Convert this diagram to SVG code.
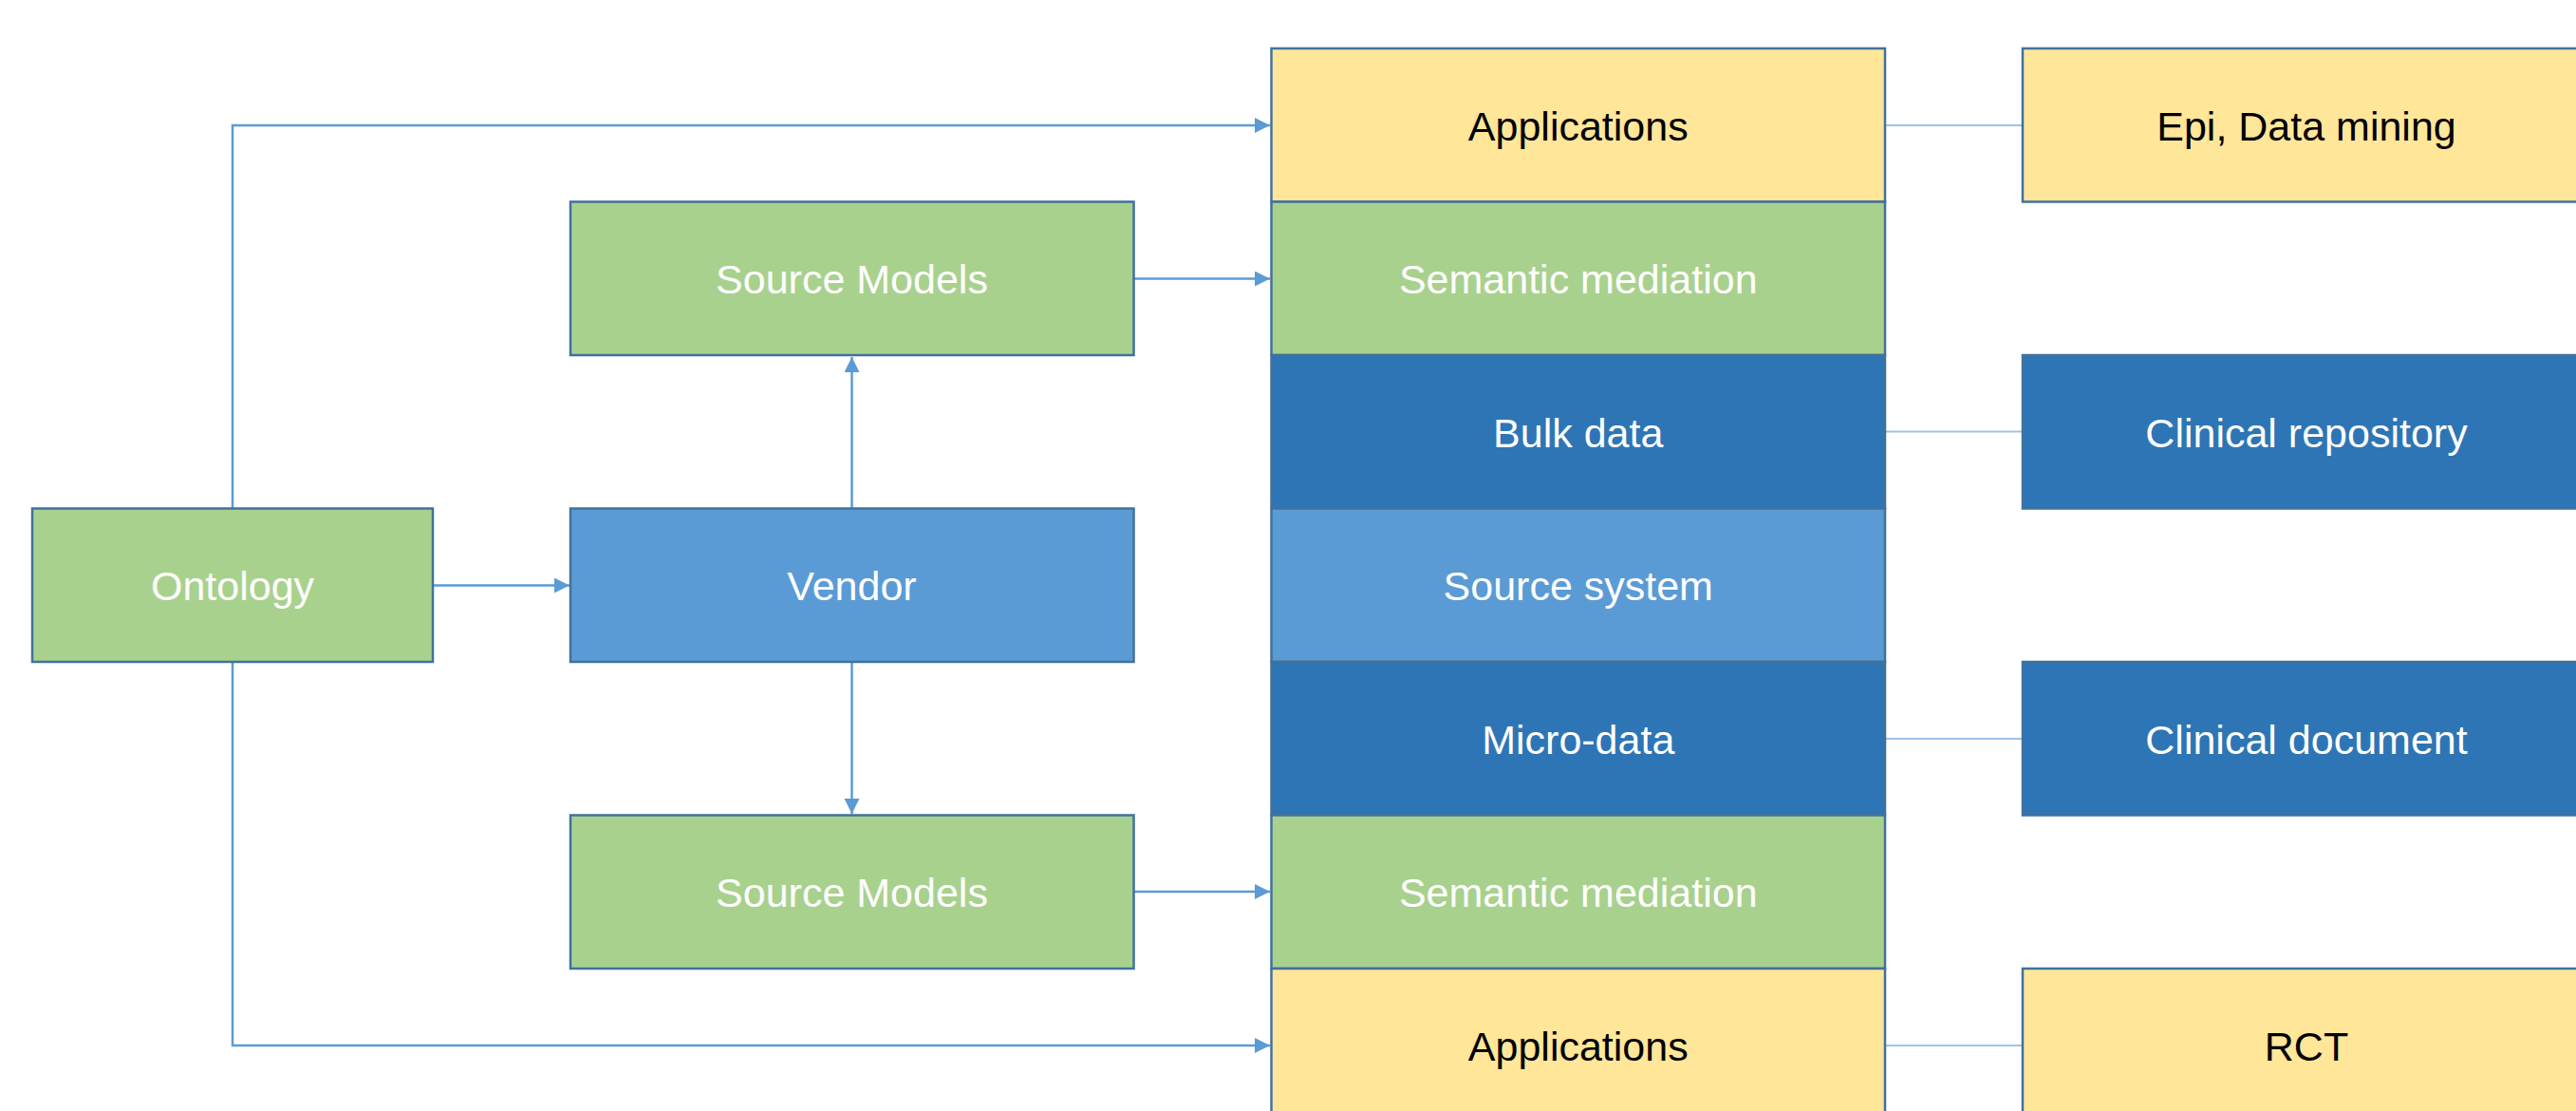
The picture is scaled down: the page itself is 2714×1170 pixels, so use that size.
<svg xmlns="http://www.w3.org/2000/svg" width="2714" height="1170" viewBox="0 0 2714 1170">
<style>
  .box { stroke: #41719C; stroke-width: 2.5; }
  .yellow { fill: #FFE699; }
  .green { fill: #A9D18E; }
  .dark { fill: #2E75B6; }
  .mid { fill: #5B9BD5; }
  .lbl { font-family: "Liberation Sans", Arial, sans-serif; font-size: 43px; text-anchor: middle; }
  .w { fill: #FFFFFF; }
  .k { fill: #000000; }
  .conn { fill: none; stroke: #5B9BD5; stroke-width: 2.5; }
  .link { fill: none; stroke: #9DC3E6; stroke-width: 2; }
</style>
<defs>
  <marker id="arrow" markerUnits="userSpaceOnUse" markerWidth="17" markerHeight="17" refX="16" refY="8" orient="auto">
    <path d="M0,0 L16,8 L0,16 z" fill="#5B9BD5"/>
  </marker>
</defs>
<rect width="2714" height="1170" fill="#FFFFFF"/>

<g id="connectors">
  <path class="conn" d="M245,535 V132 H1338" marker-end="url(#arrow)"/>
  <path class="conn" d="M245,697 V1101 H1338" marker-end="url(#arrow)"/>
  <path class="conn" d="M456,616.5 H600" marker-end="url(#arrow)"/>
  <path class="conn" d="M897.5,535 V376" marker-end="url(#arrow)"/>
  <path class="conn" d="M897.5,697 V857" marker-end="url(#arrow)"/>
  <path class="conn" d="M1194.5,293.5 H1338" marker-end="url(#arrow)"/>
  <path class="conn" d="M1194.5,939 H1338" marker-end="url(#arrow)"/>
  <path class="link" d="M1986,132 H2131"/>
  <path class="link" d="M1986,454.5 H2131"/>
  <path class="link" d="M1986,778 H2131"/>
  <path class="link" d="M1986,1101 H2131"/>
</g>

<g id="ontology">
  <rect class="box green" x="34" y="535.5" width="422" height="161.5"/>
  <text class="lbl w" x="245" y="632">Ontology</text>
</g>
<g id="vendor">
  <rect class="box mid" x="601" y="535.5" width="593.5" height="161.5"/>
  <text class="lbl w" x="897.5" y="632">Vendor</text>
</g>
<g id="source-models-top">
  <rect class="box green" x="601" y="212.5" width="593.5" height="161.5"/>
  <text class="lbl w" x="897.5" y="309">Source Models</text>
</g>
<g id="source-models-bottom">
  <rect class="box green" x="601" y="858.5" width="593.5" height="161.5"/>
  <text class="lbl w" x="897.5" y="955">Source Models</text>
</g>

<g id="stack-applications-top">
  <rect class="box yellow" x="1339.5" y="51" width="646.5" height="161.5"/>
  <text class="lbl k" x="1662.75" y="147.5">Applications</text>
</g>
<g id="stack-semantic-top">
  <rect class="box green" x="1339.5" y="212.5" width="646.5" height="161.5"/>
  <text class="lbl w" x="1662.75" y="309">Semantic mediation</text>
</g>
<g id="stack-bulk">
  <rect class="box dark" x="1339.5" y="374" width="646.5" height="161.5"/>
  <text class="lbl w" x="1662.75" y="470.5">Bulk data</text>
</g>
<g id="stack-source-system">
  <rect class="box mid" x="1339.5" y="535.5" width="646.5" height="161.5"/>
  <text class="lbl w" x="1662.75" y="632">Source system</text>
</g>
<g id="stack-micro">
  <rect class="box dark" x="1339.5" y="697" width="646.5" height="161.5"/>
  <text class="lbl w" x="1662.75" y="793.5">Micro-data</text>
</g>
<g id="stack-semantic-bottom">
  <rect class="box green" x="1339.5" y="858.5" width="646.5" height="161.5"/>
  <text class="lbl w" x="1662.75" y="955">Semantic mediation</text>
</g>
<g id="stack-applications-bottom">
  <rect class="box yellow" x="1339.5" y="1020" width="646.5" height="161.5"/>
  <text class="lbl k" x="1662.75" y="1116.5">Applications</text>
</g>

<g id="epi-data-mining">
  <rect class="box yellow" x="2131" y="51" width="646.5" height="161.5"/>
  <text class="lbl k" x="2430" y="147.5">Epi, Data mining</text>
</g>
<g id="clinical-repository">
  <rect class="box dark" x="2131" y="374" width="646.5" height="161.5"/>
  <text class="lbl w" x="2430" y="470.5">Clinical repository</text>
</g>
<g id="clinical-document">
  <rect class="box dark" x="2131" y="697" width="646.5" height="161.5"/>
  <text class="lbl w" x="2430" y="793.5">Clinical document</text>
</g>
<g id="rct">
  <rect class="box yellow" x="2131" y="1020" width="646.5" height="161.5"/>
  <text class="lbl k" x="2430" y="1116.5">RCT</text>
</g>
</svg>
